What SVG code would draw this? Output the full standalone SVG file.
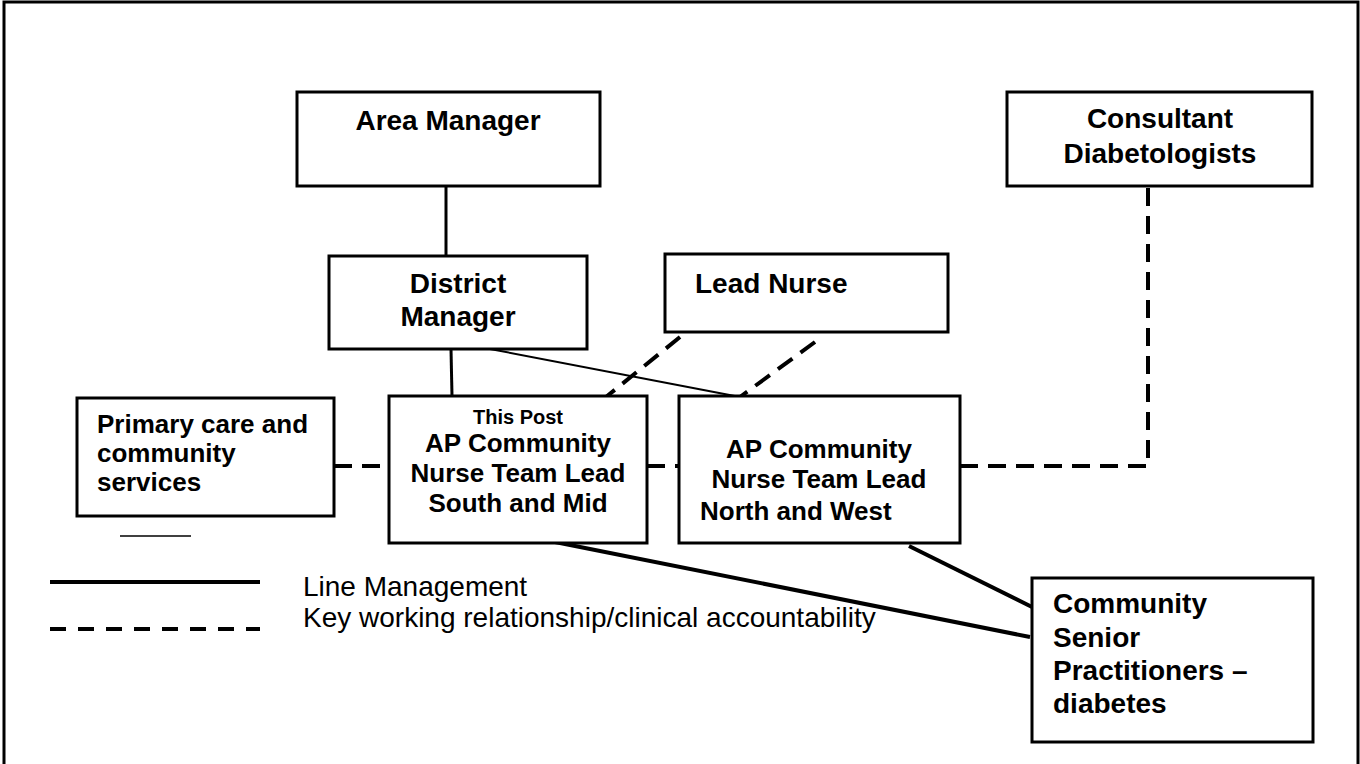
<svg xmlns="http://www.w3.org/2000/svg" width="1360" height="764" viewBox="0 0 1360 764">
  <style>
    .box { fill: #ffffff; stroke: #000000; stroke-width: 3; }
    .lbl { font-family: "Liberation Sans", Arial, sans-serif; font-weight: bold; fill: #000000; }
    .big { font-size: 28px; }
    .mid { font-size: 26px; }
    .small { font-size: 20px; }
    .legend { font-family: "Liberation Sans", Arial, sans-serif; font-size: 28px; fill: #000000; }
    .solid { stroke: #000000; stroke-width: 3; fill: none; }
    .thin { stroke: #000000; stroke-width: 2; fill: none; }
    .heavy { stroke: #000000; stroke-width: 4; fill: none; }
    .dash { stroke: #000000; stroke-width: 4; fill: none; stroke-dasharray: 18 10; }
    .mid-anchor { text-anchor: middle; }
  </style>

  <!-- page frame -->
  <rect x="4" y="2" width="1354" height="800" fill="#ffffff" stroke="#000000" stroke-width="3"/>

  <!-- connectors -->
  <g id="connectors">
    <line class="solid" x1="446" y1="186" x2="446" y2="256"/>
    <line class="solid" x1="451" y1="349" x2="452" y2="396"/>
    <line class="thin" x1="490" y1="349" x2="740" y2="397"/>
    <line class="dash" x1="680" y1="337" x2="606" y2="397"/>
    <line class="dash" x1="815" y1="342" x2="740" y2="397"/>
    <line class="dash" x1="334" y1="466" x2="389" y2="466"/>
    <line class="dash" x1="647" y1="466" x2="679" y2="466"/>
    <polyline class="dash" points="960,466 1148,466 1148,186"/>
    <line class="heavy" x1="555" y1="542" x2="1030" y2="637"/>
    <line class="heavy" x1="909" y1="546" x2="1032" y2="607"/>
  </g>

  <!-- nodes -->
  <g id="area-manager">
    <rect class="box" x="297" y="92" width="303" height="94"/>
    <text class="lbl big mid-anchor" x="448" y="130">Area Manager</text>
  </g>

  <g id="consultant-diabetologists">
    <rect class="box" x="1007" y="92" width="305" height="94"/>
    <text class="lbl big mid-anchor" x="1160" y="128">Consultant</text>
    <text class="lbl big mid-anchor" x="1160" y="163">Diabetologists</text>
  </g>

  <g id="district-manager">
    <rect class="box" x="329" y="256" width="258" height="93"/>
    <text class="lbl big mid-anchor" x="458" y="293">District</text>
    <text class="lbl big mid-anchor" x="458" y="326">Manager</text>
  </g>

  <g id="lead-nurse">
    <rect class="box" x="665" y="254" width="283" height="78"/>
    <text class="lbl big" x="695" y="293">Lead Nurse</text>
  </g>

  <g id="primary-care">
    <rect class="box" x="77" y="398" width="257" height="118"/>
    <text class="lbl mid" x="97" y="433">Primary care and</text>
    <text class="lbl mid" x="97" y="462">community</text>
    <text class="lbl mid" x="97" y="491">services</text>
  </g>

  <g id="team-lead-south-mid">
    <rect class="box" x="389" y="396" width="258" height="147"/>
    <text class="lbl small mid-anchor" x="518" y="424">This Post</text>
    <text class="lbl mid mid-anchor" x="518" y="452">AP Community</text>
    <text class="lbl mid mid-anchor" x="518" y="482">Nurse Team Lead</text>
    <text class="lbl mid mid-anchor" x="518" y="512">South and Mid</text>
  </g>

  <g id="team-lead-north-west">
    <rect class="box" x="679" y="396" width="281" height="147"/>
    <text class="lbl mid mid-anchor" x="819" y="458">AP Community</text>
    <text class="lbl mid mid-anchor" x="819" y="488">Nurse Team Lead</text>
    <text class="lbl mid" x="700" y="520">North and West</text>
  </g>

  <g id="senior-practitioners">
    <rect class="box" x="1032" y="578" width="281" height="164"/>
    <text class="lbl big" x="1053" y="613">Community</text>
    <text class="lbl big" x="1053" y="647">Senior</text>
    <text class="lbl big" x="1053" y="680">Practitioners –</text>
    <text class="lbl big" x="1053" y="713">diabetes</text>
  </g>

  <!-- short rule under the primary care box -->
  <line x1="120" y1="536" x2="191" y2="536" stroke="#000000" stroke-width="1.5"/>

  <!-- key -->
  <g id="legend">
    <line x1="50" y1="582" x2="260" y2="582" stroke="#000000" stroke-width="4"/>
    <line x1="50" y1="629" x2="260" y2="629" stroke="#000000" stroke-width="4" stroke-dasharray="16 12"/>
    <text class="legend" x="303" y="596">Line Management</text>
    <text class="legend" x="303" y="627">Key working relationship/clinical accountability</text>
  </g>
</svg>
